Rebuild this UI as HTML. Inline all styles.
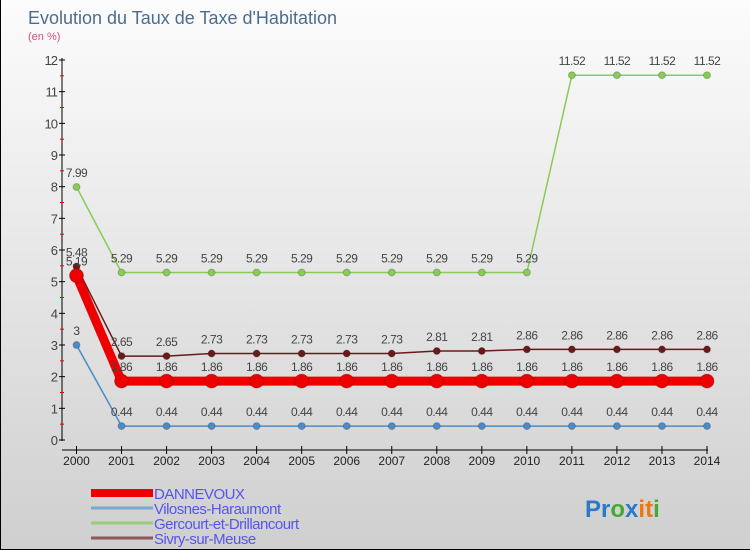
<!DOCTYPE html>
<html><head><meta charset="utf-8"><style>
body{margin:0}
#c{width:750px;height:550px;position:relative;overflow:hidden;background:linear-gradient(#fcfcfc,#cfcfcf);box-sizing:border-box;border:1px solid #000;border-top:none;border-right:none;font-family:"Liberation Sans",sans-serif}
</style></head><body>
<div id="c">
<svg id="s" width="750" height="550" style="position:absolute;left:0;top:0"></svg>
</div>
<script>
const years=[2000,2001,2002,2003,2004,2005,2006,2007,2008,2009,2010,2011,2012,2013,2014];
const dannevoux=[5.19,1.86,1.86,1.86,1.86,1.86,1.86,1.86,1.86,1.86,1.86,1.86,1.86,1.86,1.86];
const vilosnes=[3,0.44,0.44,0.44,0.44,0.44,0.44,0.44,0.44,0.44,0.44,0.44,0.44,0.44,0.44];
const gercourt=[7.99,5.29,5.29,5.29,5.29,5.29,5.29,5.29,5.29,5.29,5.29,11.52,11.52,11.52,11.52];
const sivry=[5.48,2.65,2.65,2.73,2.73,2.73,2.73,2.73,2.81,2.81,2.86,2.86,2.86,2.86,2.86];
const yTicks=[0,1,2,3,4,5,6,7,8,9,10,11,12];
const NS="http://www.w3.org/2000/svg";
const svg=document.getElementById('s');
const X=i=>75.5+i*(706-75.5)/(years.length-1);
const Y=v=>440-v*(380/12);
function el(t,a,name,p){const e=document.createElementNS(NS,t);for(const k in a)e.setAttribute(k,a[k]);


(p||svg).appendChild(e);return e;}
function txt(x,y,s,a,name){const e=el('text',Object.assign({x:x,y:y},a),name);e.textContent=s;return e;}
txt(27,24,"Evolution du Taux de Taxe d'Habitation",{'font-size':18,fill:'#4d6d8d'},'chart-title');
txt(27,40,"(en %)",{'font-size':11,fill:'#d05080'},'y-unit-label');
el('line',{x1:61,y1:58,x2:61,y2:441,stroke:'#000','stroke-width':1},'y-axis');
el('line',{x1:61,y1:450,x2:707,y2:450,stroke:'#000','stroke-width':1},'x-axis');
yTicks.forEach(v=>{
 el('line',{x1:58,y1:Y(v),x2:64,y2:Y(v),stroke:'#000'},'y-tick');
 if(v<12)el('line',{x1:59,y1:Y(v+0.5),x2:63,y2:Y(v+0.5),stroke:'#e00'},'y-minor-tick');
 txt(56,Y(v)+5,String(v),{'font-size':13,fill:'#444','text-anchor':'end','letter-spacing':'-1'},'y-tick-label');
});
years.forEach((y,i)=>{
 el('line',{x1:X(i),y1:446,x2:X(i),y2:454,stroke:'#000'},'x-tick');
 txt(X(i),465,String(y),{'font-size':12,fill:'#222','text-anchor':'middle'},'x-tick-label');
});
function series(d,color,w,r,name){
 el('polyline',{points:d.map((v,i)=>X(i)+','+Y(v)).join(' '),fill:'none',stroke:color,'stroke-width':w,'stroke-linejoin':'round'},name+'-line');
 d.forEach((v,i)=>{el('circle',{cx:X(i),cy:Y(v),r:r,fill:color,stroke:'rgba(0,0,0,0.2)'},name+'-point');
 txt(X(i),Y(v)-10,String(v),{'font-size':12,fill:'#444','text-anchor':'middle','letter-spacing':'-0.5'},name+'-value-label');});
}
series(gercourt,'#88cc55',1.5,3.5,'gercourt');
series(vilosnes,'#4a8cc8',1.5,3.5,'vilosnes');
series(sivry,'#6b1a1a',1.5,3.5,'sivry');
series(dannevoux,'#ee0000',9,7,'dannevoux');
const legend=[["DANNEVOUX","#ee0000",8],["Vilosnes-Haraumont","#7aa8cc",3],["Gercourt-et-Drillancourt","#99cc77",3],["Sivry-sur-Meuse","#8a5a5a",3]];
legend.forEach((l,i)=>{const y=493+i*15;
 el('line',{x1:90,y1:y,x2:130+22,y2:y,stroke:l[1],'stroke-width':l[2]},'legend-swatch');
 txt(153,y+6,l[0],{'font-size':15,fill:'#5555ee','letter-spacing':'-0.5'},'legend-entry');});
const logo=txt(584,517,'',{'font-size':24,'font-weight':'bold'},'proxiti-logo');
[['P','#2a7ac8'],['r','#2a7ac8'],['o','#44aa33'],['x','#2a7ac8'],['i','#ee7711'],['t','#ee7711'],['i','#44aa33']].forEach(c=>{const t=document.createElementNS(NS,'tspan');t.setAttribute('fill',c[1]);t.textContent=c[0];logo.appendChild(t);});
</script>
</body></html>
